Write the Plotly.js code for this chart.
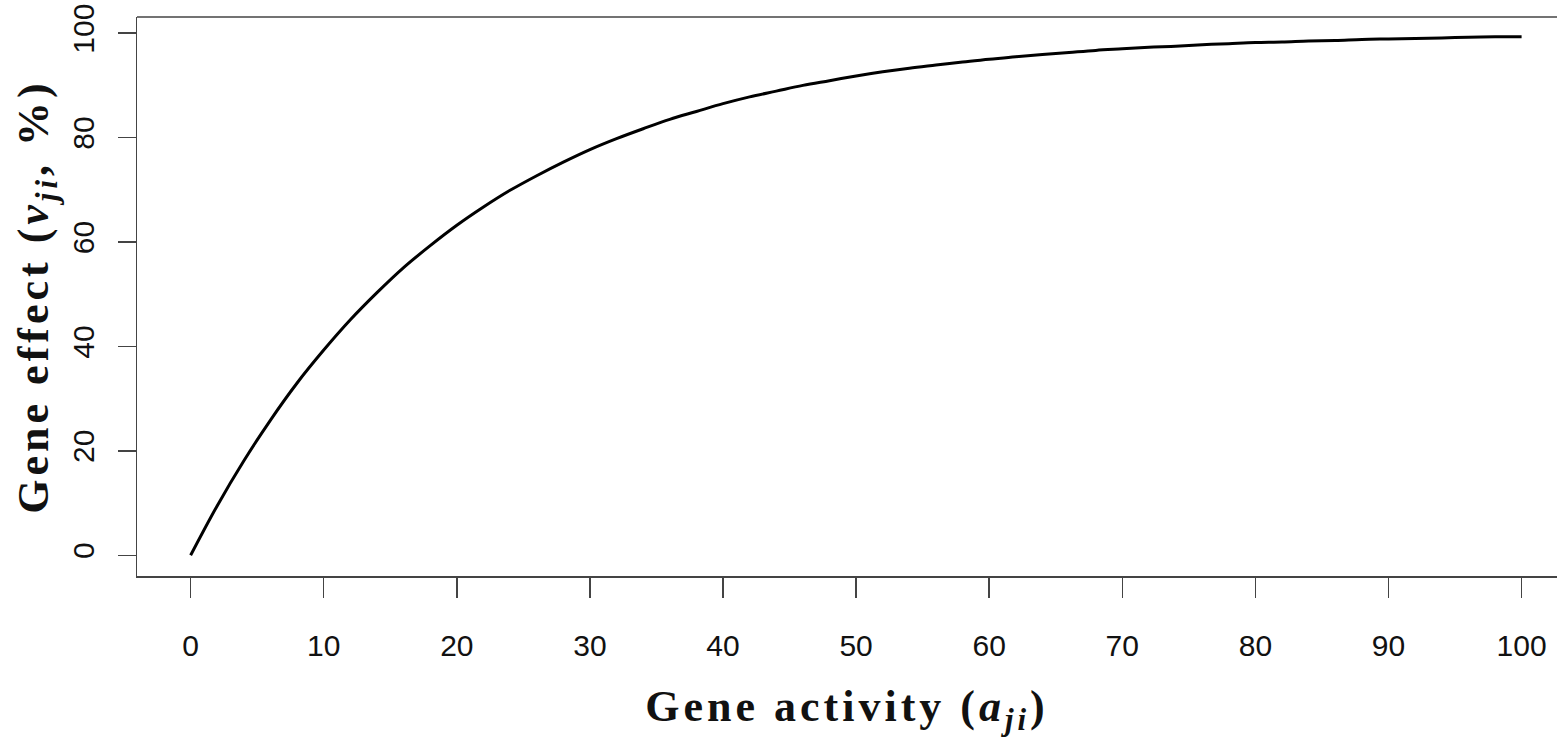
<!DOCTYPE html>
<html>
<head>
<meta charset="utf-8">
<script src="https://cdn.plot.ly/plotly-3.0.1.min.js"></script>
<style>
html,body{margin:0;padding:0;background:#fff;}
#chart{width:1558px;height:737px;}
text.xtitle,text.ytitle{letter-spacing:4px;}
</style>
</head>
<body>
<div id="chart"></div>
<script>
// Gene activity (x) and gene effect in % (y)
const activity = [0,2,4,6,8,10,12,14,16,18,20,22,24,26,28,30,32,34,36,38,40,42,44,46,48,50,52,54,56,58,60,62,64,66,68,70,72,74,76,78,80,82,84,86,88,90,92,94,96,98,100];
const effect = [0,9.5,18.1,25.9,33.0,39.3,45.1,50.3,55.1,59.3,63.2,66.7,69.9,72.7,75.3,77.7,79.8,81.7,83.5,85.0,86.5,87.8,88.9,90.0,90.9,91.8,92.6,93.3,93.9,94.5,95.0,95.5,95.9,96.3,96.7,97.0,97.3,97.5,97.8,98.0,98.2,98.3,98.5,98.6,98.8,98.9,99.0,99.1,99.2,99.3,99.3];
const xTicks = [0,10,20,30,40,50,60,70,80,90,100];
const yTicks = [0,20,40,60,80,100];

const axisColor = '#444';
const trace = {
  x: activity, y: effect, type: 'scatter', mode: 'lines',
  line: {color: '#000', width: 3, shape: 'spline'}, hoverinfo: 'skip'
};
const layout = {
  width: 1558, height: 737,
  margin: {l: 137, r: 1, t: 17, b: 161},
  paper_bgcolor: '#fff', plot_bgcolor: '#fff',
  showlegend: false,
  xaxis: {
    range: [-4.03, 102.66], tickvals: xTicks, ticktext: xTicks.map(String),
    showgrid: false, zeroline: false, showline: true, linecolor: axisColor, linewidth: 1.5,
    ticks: 'outside', ticklen: 20, tickwidth: 1.5, tickcolor: axisColor,
    ticklabelstandoff: 22,
    tickfont: {family: 'Liberation Sans, Arial, sans-serif', size: 30, color: '#111'},
    title: {text: 'Gene activity (<i>a</i><sub><i>ji</i></sub>)', standoff: 30,
      font: {family: 'Liberation Serif, DejaVu Serif, serif', size: 44, color: '#111', weight: 'bold'}}
  },
  yaxis: {
    range: [-3.97, 103.1], tickvals: yTicks, ticktext: yTicks.map(String),
    showgrid: false, zeroline: false, showline: true, linecolor: axisColor, linewidth: 1.5,
    ticks: 'outside', ticklen: 18, tickwidth: 1.5, tickcolor: axisColor,
    tickangle: -90, ticklabelstandoff: 12,
    tickfont: {family: 'Liberation Sans, Arial, sans-serif', size: 30, color: '#111'},
    title: {text: 'Gene effect (<i>v</i><sub><i>ji</i></sub>, %)', standoff: 4,
      font: {family: 'Liberation Serif, DejaVu Serif, serif', size: 44, color: '#111', weight: 'bold'}}
  },
  shapes: [{type: 'line', xref: 'paper', yref: 'paper', x0: 0, x1: 1, y0: 1, y1: 1,
    line: {color: axisColor, width: 1.5}}]
};
Plotly.newPlot('chart', [trace], layout, {displayModeBar: false, staticPlot: true});
</script>
</body>
</html>
